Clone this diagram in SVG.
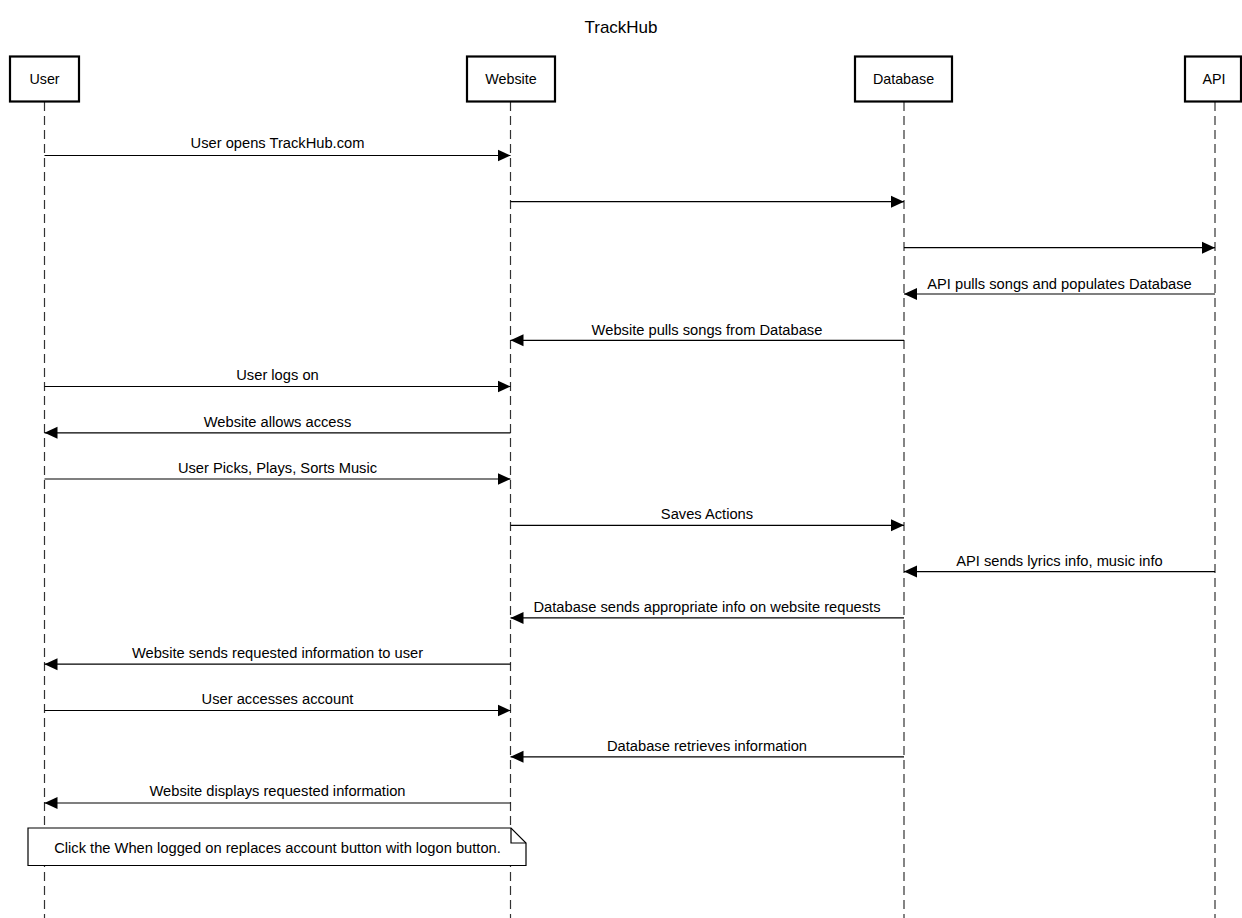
<svg xmlns="http://www.w3.org/2000/svg" width="1242" height="918" viewBox="0 0 1242 918">
<style>
text{font-family:"Liberation Sans",Arial,Helvetica,sans-serif;fill:#000}
.lbl{font-size:14.7px;text-anchor:middle}
.box{fill:#fff;stroke:#000;stroke-width:2.2}
.life{stroke:#333;stroke-width:1.2;stroke-dasharray:9 5;fill:none}
.msg{stroke:#000;stroke-width:1.2;fill:none;marker-end:url(#ah)}
.title{font-size:17px;text-anchor:middle}
.node{font-size:14.3px;text-anchor:middle}
</style>
<defs>
<marker id="ah" markerUnits="userSpaceOnUse" markerWidth="14" markerHeight="14" viewBox="0 0 14 14" refX="13" refY="7" orient="auto">
<path d="M0,1 L13,7 L0,13 Z" fill="#000"/>
</marker>
</defs>
<rect width="1242" height="918" fill="#fff"/>
<text class="title" x="621" y="33">TrackHub</text>

<g id="lifelines">
<line class="life" x1="44.5" y1="102" x2="44.5" y2="918"/>
<line class="life" x1="510.5" y1="102" x2="510.5" y2="918"/>
<line class="life" x1="904" y1="102" x2="904" y2="918"/>
<line class="life" x1="1215" y1="102" x2="1215" y2="918"/>
</g>

<g id="node-user">
<rect class="box" x="10" y="56.5" width="69" height="45"/>
<text class="node" x="44.5" y="84">User</text>
</g>
<g id="node-website">
<rect class="box" x="467" y="56.5" width="88" height="45"/>
<text class="node" x="511" y="84">Website</text>
</g>
<g id="node-database">
<rect class="box" x="855" y="56.5" width="97" height="45"/>
<text class="node" x="903.5" y="84">Database</text>
</g>
<g id="node-api">
<rect class="box" x="1185" y="56.5" width="56" height="45"/>
<text class="node" x="1214" y="84">API</text>
</g>

<g id="connectors">
<line class="msg" x1="44.5" y1="155.5" x2="510.5" y2="155.5"/>
<text class="lbl" x="277.5" y="147.5">User opens TrackHub.com</text>

<line class="msg" x1="510.5" y1="201.7" x2="904" y2="201.7"/>

<line class="msg" x1="904" y1="247.7" x2="1215" y2="247.7"/>

<line class="msg" x1="1215" y1="294" x2="904" y2="294"/>
<text class="lbl" x="1059.5" y="288.5">API pulls songs and populates Database</text>

<line class="msg" x1="904" y1="340.3" x2="510.5" y2="340.3"/>
<text class="lbl" x="707" y="334.5">Website pulls songs from Database</text>

<line class="msg" x1="44.5" y1="386.5" x2="510.5" y2="386.5"/>
<text class="lbl" x="277.5" y="379.5">User logs on</text>

<line class="msg" x1="510.5" y1="432.8" x2="44.5" y2="432.8"/>
<text class="lbl" x="277.5" y="426.5">Website allows access</text>

<line class="msg" x1="44.5" y1="479" x2="510.5" y2="479"/>
<text class="lbl" x="277.5" y="472.5">User Picks, Plays, Sorts Music</text>

<line class="msg" x1="510.5" y1="525.3" x2="904" y2="525.3"/>
<text class="lbl" x="707" y="518.5">Saves Actions</text>

<line class="msg" x1="1215" y1="571.6" x2="904" y2="571.6"/>
<text class="lbl" x="1059.5" y="565.5">API sends lyrics info, music info</text>

<line class="msg" x1="904" y1="617.9" x2="510.5" y2="617.9"/>
<text class="lbl" x="707" y="611.5">Database sends appropriate info on website requests</text>

<line class="msg" x1="510.5" y1="664.2" x2="44.5" y2="664.2"/>
<text class="lbl" x="277.5" y="657.5">Website sends requested information to user</text>

<line class="msg" x1="44.5" y1="710.5" x2="510.5" y2="710.5"/>
<text class="lbl" x="277.5" y="703.5">User accesses account</text>

<line class="msg" x1="904" y1="756.8" x2="510.5" y2="756.8"/>
<text class="lbl" x="707" y="750.5">Database retrieves information</text>

<line class="msg" x1="510.5" y1="803" x2="44.5" y2="803"/>
<text class="lbl" x="277.5" y="795.5">Website displays requested information</text>
</g>

<g id="note">
<path d="M28,828 L511,828 L526,843 L526,865.5 L28,865.5 Z" fill="#fff" stroke="#000" stroke-width="1.2"/>
<path d="M511,828 L511,843 L526,843" fill="none" stroke="#000" stroke-width="1.2"/>
<text class="lbl" x="277.5" y="852.5">Click the When logged on replaces account button with logon button.</text>
</g>
</svg>
